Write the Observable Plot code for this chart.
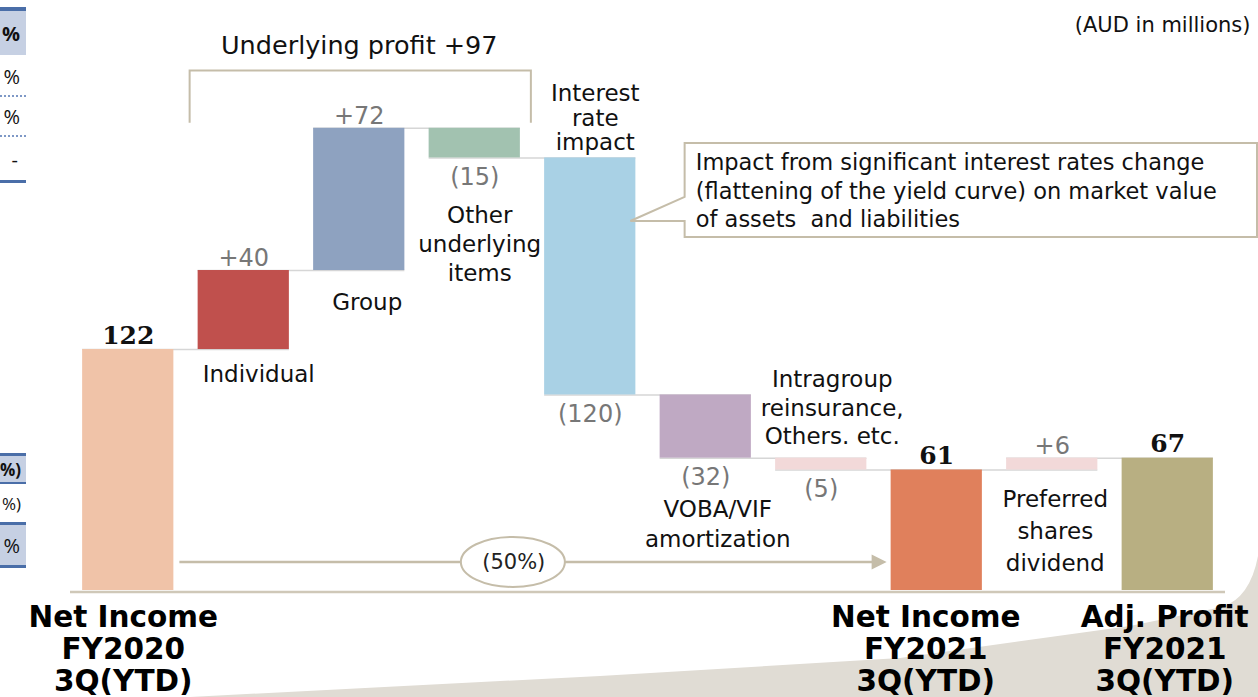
<!DOCTYPE html>
<html>
<head>
<meta charset="utf-8">
<script src="https://cdn.jsdelivr.net/npm/d3@7"></script>
<script src="https://cdn.jsdelivr.net/npm/@observablehq/plot@0.6"></script>
<style>
  body { margin: 0; background: #fff; }
  #wrap { position: relative; width: 1258px; height: 697px; overflow: hidden; background: #fff; font-family: "DejaVu Sans", sans-serif; }
  #curl { position: absolute; left: 0; top: 0; }
  #chart { position: absolute; left: 0; top: 0; }
  .frag { position: absolute; left: 0; width: 26px; overflow: hidden; }
  .cell { display: flex; align-items: center; justify-content: flex-end; padding-right: 6px; box-sizing: border-box; white-space: nowrap;
          font-family: "Open Sans", "DejaVu Sans", sans-serif; font-size: 20px; color: #111; }
  .bold { font-weight: bold; }
  .line { background: #4a6ea8; }
  .hdr { background: #c6d0e3; }
  .dot { border-bottom: 2px dotted #7e98c6; }
</style>
</head>
<body>
<div id="wrap">
  <svg id="curl" width="1258" height="697">
    <path d="M190,697 L600,676 L900,658 L1130,626 L1222,607 Q1250,598 1258,556 L1258,697 Z" fill="#e0dcd4"/>
  </svg>
  <div id="chart"></div>
  <!-- cropped table fragments at the left edge -->
  <div class="frag line" style="top:7px;height:4px"></div>
  <div class="frag cell hdr bold" style="top:11px;height:44px">%</div>
  <div class="frag cell dot" style="top:57px;height:40px">%</div>
  <div class="frag cell dot" style="top:97px;height:40px">%</div>
  <div class="frag cell" style="top:139px;height:41px;padding-right:8px">-</div>
  <div class="frag line" style="top:180px;height:3px"></div>
  <div class="frag line" style="top:453px;height:3px"></div>
  <div class="frag cell hdr bold" style="top:456px;height:26px;padding-right:5px;font-size:17px">%)</div>
  <div class="frag line" style="top:482px;height:2px"></div>
  <div class="frag cell" style="top:484px;height:38px;padding-right:5px;font-size:17px">%)</div>
  <div class="frag line" style="top:522px;height:3px"></div>
  <div class="frag cell hdr" style="top:525px;height:40px">%</div>
  <div class="frag line" style="top:565px;height:3px"></div>
</div>
<script>
// ---- data ----
const categories = [
  "Net Income\nFY2020\n3Q(YTD)",
  "Individual",
  "Group",
  "Other\nunderlying\nitems",
  "Interest\nrate\nimpact",
  "VOBA/VIF\namortization",
  "Intragroup\nreinsurance,\nOthers. etc.",
  "Net Income\nFY2021\n3Q(YTD)",
  "Preferred\nshares\ndividend",
  "Adj. Profit\nFY2021\n3Q(YTD)"
];
const kinds = ["total", "delta", "delta", "delta", "delta", "delta", "delta", "total", "delta", "total"];
const values = [122, 40, 72, -15, -120, -32, -6, 61, 6, 67];
const valueLabels = ["122", "+40", "+72", "(15)", "(120)", "(32)", "(5)", "61", "+6", "67"];
const palette = ["#f0c3a8", "#c0504d", "#8ea2c0", "#a2c2b0", "#a9d1e5", "#bfa9c3", "#f2d9d9", "#e0805c", "#f2d9d9", "#b8af82"];
const titleText = "Underlying profit +97";
const unitText = "(AUD in millions)";
const calloutText = "Impact from significant interest rates change\n(flattening of the yield curve) on market value\nof assets  and liabilities";
const changeText = "(50%)";

// ---- derived waterfall table ----
let running = 0;
const bars = categories.map((c, i) => {
  let y1, y2;
  if (kinds[i] === "total") { y1 = 0; y2 = values[i]; }
  else { y1 = running; y2 = running + values[i]; }
  running = y2;
  return {cat: c, i, y1, y2, lo: Math.min(y1, y2), hi: Math.max(y1, y2),
          label: valueLabels[i], kind: kinds[i], up: values[i] >= 0, color: palette[i]};
});
const connectors = bars.slice(0, -1).map((b, i) => ({from: b.cat, to: bars[i + 1].cat, level: b.y2}));

// annotation levels (value units)
const bracketTop = 263, bracketLeg = 236.5;
const boxTop = 226.3, boxBottom = 178.7, tipLevel = 186.8, wedgeUp = 199;
const arrowLevel = 14.2;

function annotate(index, scales, values, dims) {
  const {x, y} = scales;
  const ns = "http://www.w3.org/2000/svg";
  const g = document.createElementNS(ns, "g");
  const el = (tag, attrs) => { const e = document.createElementNS(ns, tag); for (const k in attrs) e.setAttribute(k, attrs[k]); g.appendChild(e); return e; };
  const bw = x.bandwidth();
  const start = c => x(c), end = c => x(c) + bw;
  const tan = "#c5bda9";
  // bracket over underlying profit items
  const bl = start(categories[1]) - 8, br = end(categories[3]) + 11;
  el("path", {d: `M${bl},${y(bracketLeg)}V${y(bracketTop)}H${br}V${y(bracketLeg)}`, fill: "none", stroke: tan, "stroke-width": 2});
  // callout box with wedge
  const L = start(categories[5]) + 25, R = dims.width - 1;
  const tipX = end(categories[4]) - 5;
  el("path", {d: `M${L},${y(boxTop)}H${R}V${y(boxBottom)}H${L}V${y(tipLevel)}L${tipX},${y(tipLevel)}L${L},${y(wedgeUp)}Z`,
              fill: "#fff", stroke: tan, "stroke-width": 2});
  // arrow from first to second net income
  const ay = y(arrowLevel);
  const ax1 = end(categories[0]) + 6, tip = start(categories[7]) - 4;
  el("line", {x1: ax1, x2: tip - 12, y1: ay, y2: ay, stroke: tan, "stroke-width": 2.5});
  el("path", {d: `M${tip},${ay}L${tip - 15},${ay - 7.5}L${tip - 15},${ay + 7.5}Z`, fill: tan});
  // ellipse
  el("ellipse", {cx: end(categories[3]) - 7, cy: ay, rx: 52, ry: 25, fill: "#fff", stroke: tan, "stroke-width": 2});
  return g;
}

const labelLayout = [
  {i: 1, at: "lo", dx: 15, dy: 23, lh: 1.26},
  {i: 2, at: "lo", dx: 8, dy: 30, lh: 1.26},
  {i: 3, at: "lo", dx: 5, dy: 85, lh: 1.26},
  {i: 4, at: "hi", dx: 5, dy: -40, lh: 1.07},
  {i: 5, at: "lo", dx: 12, dy: 64, lh: 1.3},
  {i: 6, at: "hi", dx: 11, dy: -51.5, lh: 1.24},
  {i: 8, at: "lo", dx: 3, dy: 59, lh: 1.39}
];
const bottomLayout = [{i: 0, dx: -5}, {i: 7, dx: -11}, {i: 9, dx: -3}];

const chart = Plot.plot({
  width: 1258,
  height: 697,
  marginLeft: 70,
  marginRight: 33,
  marginTop: 0,
  marginBottom: 107,
  x: {type: "band", domain: categories, paddingInner: 0.21, paddingOuter: 0.105, round: false, axis: null},
  y: {domain: [0, 298.7], axis: null},
  color: {type: "identity"},
  style: {background: "transparent", fontFamily: "DejaVu Sans, sans-serif", overflow: "visible"},
  marks: [
    Plot.ruleY(connectors, {x1: "from", x2: "to", y: "level", stroke: "#d6d6d6", strokeWidth: 1.5}),
    Plot.barY(bars, {x: "cat", y1: "y1", y2: "y2", fill: "color"}),
    Plot.ruleY([0], {stroke: "#cfc8b8", strokeWidth: 2.5, dy: 1.5}),
    annotate,
    // value labels
    Plot.text(bars.filter(d => d.kind === "total"), {x: "cat", y: "hi", text: "label", dy: -14,
      fontFamily: "DejaVu Serif, serif", fontWeight: "bold", fontSize: 25, fill: "#111"}),
    Plot.text(bars.filter(d => d.kind !== "total" && d.up), {x: "cat", y: "hi", text: "label", dy: -12,
      fontSize: 24, fill: "#777"}),
    Plot.text(bars.filter(d => d.kind !== "total" && !d.up), {x: "cat", y: "lo", text: "label", dy: 19,
      fontSize: 24, fill: "#777"}),
    // category labels
    ...labelLayout.map(l => Plot.text([bars[l.i]], {x: "cat", y: l.at, text: "cat", dx: l.dx, dy: l.dy,
      lineHeight: l.lh, fontSize: 23, fill: "#111"})),
    ...bottomLayout.map(l => Plot.text([bars[l.i]], {x: "cat", y: () => 0, text: "cat", dx: l.dx, dy: 58.5,
      lineHeight: 1.09, fontSize: 29.5, fontWeight: "bold", fill: "#000"})),
    // annotation texts
    Plot.text([titleText], {x: () => categories[2], frameAnchor: "top", dy: 45, lineAnchor: "middle", text: d => d, fontSize: 25.5, fill: "#111"}),
    Plot.text([unitText], {frameAnchor: "top-right", dx: 25, dy: 25, lineAnchor: "middle", textAnchor: "end", text: d => d, fontSize: 21, fill: "#111"}),
    Plot.text([calloutText], {x: () => categories[5], dx: -10, frameAnchor: "top", dy: 189, lineAnchor: "middle", textAnchor: "start",
      lineHeight: 1.27, text: d => d, fontSize: 22.5, fill: "#111"}),
    Plot.text([changeText], {x: () => categories[3], dx: 39, y: () => arrowLevel, text: d => d, fontSize: 21, fill: "#222"})
  ]
});
document.getElementById("chart").appendChild(chart);
</script>
</body>
</html>
